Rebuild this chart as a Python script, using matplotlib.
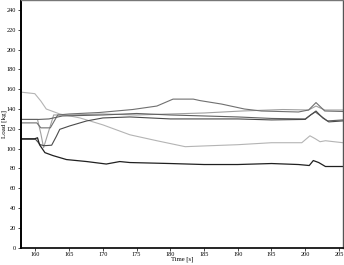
import matplotlib.pyplot as plt

# time / load readings
t_black = [157.9, 159.9, 160.3, 160.6, 161.4, 162.6, 164.6, 167.6, 170.5, 172.5, 174.0,
           180.0, 185.0, 190.0, 195.0, 199.0, 200.6, 201.2, 202.0, 203.0, 205.6]
v_black = [110, 110, 111, 104, 96, 93, 89, 87, 84.5, 87, 86,
           85, 84, 84, 85, 84, 83, 88, 86, 82, 82]

t_light = [157.9, 159.9, 160.8, 161.6, 163.6, 166.6, 170.0, 174.0, 178.0, 182.2, 186.0,
           190.0, 195.0, 199.5, 200.7, 201.5, 202.2, 203.0, 205.6]
v_light = [157, 155.5, 148, 140, 135, 131, 124, 114, 108, 102, 103,
           104, 106, 106, 113, 110, 107, 108, 106]

t_u1 = [157.9, 160.2, 160.8, 162.2, 163.3, 165.0, 169.5, 174.4, 178.0, 180.4, 183.4,
        184.4, 187.6, 191.0, 193.5, 199.0, 200.5, 201.6, 202.9, 205.6]
v_u1 = [126, 126, 121, 121, 134, 135, 136.5, 139.5, 143, 150, 150,
        148.5, 145, 140, 138, 137, 139, 146.5, 138, 137.5]

t_u2 = [157.9, 160.3, 160.8, 161.2, 162.7, 165.0, 170.0, 175.0, 180.0, 185.0, 190.6,
        196.7, 200.5, 201.6, 202.9, 205.6]
v_u2 = [129.5, 129.5, 115, 101, 134, 134, 135, 134, 135, 136, 138,
        139.5, 139, 143, 139, 139]

t_u3 = [157.9, 160.0, 160.7, 161.3, 162.4, 163.1, 163.6, 165.1, 167.6, 170.0, 174.0,
        180.0, 185.0, 190.0, 195.0, 200.0, 200.8, 201.6, 202.6, 203.5, 205.6]
v_u3 = [109.5, 109.5, 104, 103, 103.5, 112.5, 119.5, 123, 128, 131, 132,
        130, 130, 130, 129, 129.5, 134, 138, 131, 127, 128]

t_u4 = [157.9, 160.5, 162.0, 164.0, 170.0, 175.0, 180.0, 185.0, 190.0, 195.0, 200.0,
        200.8, 201.5, 202.5, 203.3, 205.6]
v_u4 = [129.5, 129.5, 130, 133, 134, 135.5, 134, 133, 132, 130.5, 130,
        134, 137, 132, 128, 129]

x_ticks = [160, 165, 170, 175, 180, 185, 190, 195, 200, 205]
y_ticks = list(range(0, 241, 20))

plt.rcParams['font.family'] = ['Liberation Serif', 'DejaVu Serif']

fig = plt.figure(figsize=(3.44, 2.65), dpi=100)
ax = fig.add_axes([0.061, 0.065, 0.936, 0.935])

ax.plot(t_light, v_light, color='#b4b4b4', lw=0.8)
ax.plot(t_u2, v_u2, color='#a0a0a0', lw=0.8)
ax.plot(t_u1, v_u1, color='#707070', lw=0.8)
ax.plot(t_u4, v_u4, color='#606060', lw=0.8)
ax.plot(t_u3, v_u3, color='#4a4a4a', lw=0.8)
ax.plot(t_black, v_black, color='#202020', lw=0.9)

ax.set_xlim(157.85, 205.6)
ax.set_ylim(0, 250)
ax.set_xticks(x_ticks)
ax.set_yticks(y_ticks)
ax.tick_params(labelsize=4.5, length=2, width=0.5, pad=1.5)
ax.tick_params(axis='x', pad=0.8)

ax.set_xlabel("Time [s]", fontsize=4.8, va='top')
ax.set_ylabel("Load [kg]", fontsize=5)
ax.xaxis.set_label_coords(0.5, -0.037)
ax.yaxis.set_label_coords(-0.043, 0.5)

ax.spines['left'].set_linewidth(1.4)
ax.spines['bottom'].set_linewidth(1.2)
ax.spines['top'].set_color('#777777')
ax.spines['right'].set_color('#555555')
ax.spines['top'].set_linewidth(1.0)
ax.spines['right'].set_linewidth(1.0)

fig.savefig("out.png", dpi=100)
